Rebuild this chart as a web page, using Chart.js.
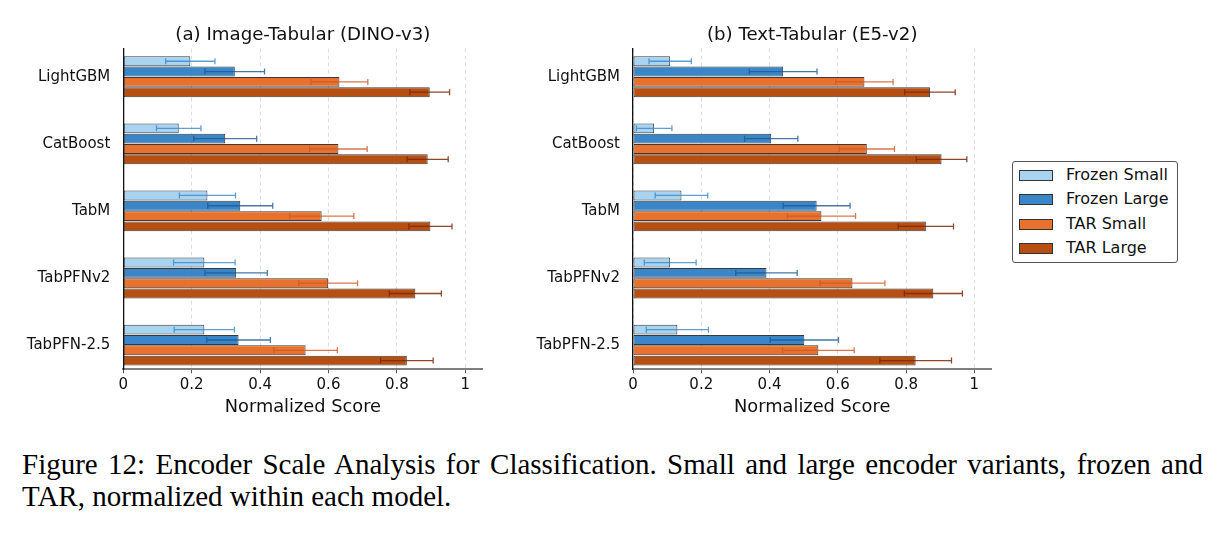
<!DOCTYPE html>
<html>
<head>
<meta charset="utf-8">
<script src="https://cdn.jsdelivr.net/npm/chart.js@4.4.1/dist/chart.umd.min.js"></script>
<style>
  html, body { margin:0; padding:0; background:#fff; }
  body { width:1219px; height:533px; position:relative; overflow:hidden; font-family:"DejaVu Sans", sans-serif; }
  canvas { position:absolute; top:0; }
  #legend { position:absolute; left:1012px; top:161px; width:166px; height:102px; border:1px solid #555; border-radius:3px; box-sizing:border-box; }
  .li { position:absolute; left:0; height:20px; width:166px; }
  .sw { position:absolute; left:6px; width:34px; height:11px; border:1px solid #333; box-sizing:border-box; }
  .lt { position:absolute; left:53px; font-size:16px; color:#111; line-height:20px; white-space:nowrap; }
  #caption { position:absolute; left:22px; top:448px; width:1181px; font-family:"Liberation Serif", "Times New Roman", serif; font-size:29px; line-height:32px; color:#000; }
  #caption .l1 { text-align:justify; text-align-last:justify; white-space:nowrap; }
</style>
</head>
<body>
<canvas id="chartA" width="500" height="430" style="left:0px"></canvas>
<canvas id="chartB" width="500" height="430" style="left:505px"></canvas>
<div id="legend"></div>
<div id="caption">
  <div class="l1">Figure 12: Encoder Scale Analysis for Classification. Small and large encoder variants, frozen and</div>
  <div>TAR, normalized within each model.</div>
</div>
<script>
// ---------- data ----------
const categories = ['LightGBM', 'CatBoost', 'TabM', 'TabPFNv2', 'TabPFN-2.5'];
const seriesNames = ['Frozen Small', 'Frozen Large', 'TAR Small', 'TAR Large'];
const xTickValues = [0, 0.2, 0.4, 0.6, 0.8, 1];
const xTickLabels = ['0', '0.2', '0.4', '0.6', '0.8', '1'];
const titleA = '(a) Image-Tabular (DINO-v3)';
const titleB = '(b) Text-Tabular (E5-v2)';
const xTitle = 'Normalized Score';

// (a) Image-Tabular
const imgFrozenSmall    = [0.196, 0.162, 0.246, 0.237, 0.237];
const imgFrozenLarge    = [0.326, 0.298, 0.342, 0.330, 0.337];
const imgTarSmall       = [0.632, 0.629, 0.580, 0.599, 0.533];
const imgTarLarge       = [0.896, 0.890, 0.898, 0.854, 0.829];
const imgFrozenSmallErr = [0.072, 0.065, 0.082, 0.090, 0.088];
const imgFrozenLargeErr = [0.087, 0.092, 0.095, 0.091, 0.093];
const imgTarSmallErr    = [0.083, 0.084, 0.094, 0.086, 0.093];
const imgTarLargeErr    = [0.058, 0.060, 0.063, 0.076, 0.077];

// (b) Text-Tabular
const txtFrozenSmall    = [0.109, 0.062, 0.142, 0.109, 0.130];
const txtFrozenLarge    = [0.440, 0.405, 0.538, 0.391, 0.502];
const txtTarSmall       = [0.678, 0.685, 0.552, 0.643, 0.543];
const txtTarLarge       = [0.870, 0.904, 0.858, 0.880, 0.828];
const txtFrozenSmallErr = [0.062, 0.052, 0.077, 0.076, 0.091];
const txtFrozenLargeErr = [0.099, 0.078, 0.098, 0.090, 0.100];
const txtTarSmallErr    = [0.084, 0.081, 0.100, 0.095, 0.105];
const txtTarLargeErr    = [0.074, 0.074, 0.081, 0.085, 0.105];

// ---------- styles ----------
const barColors = ['#a8d4f1', '#3a86c8', '#e8722d', '#b74f13'];
const errColors = ['rgba(58,134,200,0.8)', 'rgba(28,88,145,0.8)', 'rgba(205,88,32,0.8)', 'rgba(125,40,8,0.85)'];
const FONT = 'DejaVu Sans';

const errorBarPlugin = {
  id: 'errorBars',
  afterDatasetsDraw(chart) {
    const ctx = chart.ctx;
    const xs = chart.scales.x;
    chart.data.datasets.forEach((ds, di) => {
      const meta = chart.getDatasetMeta(di);
      meta.data.forEach((el, j) => {
        const v = ds.data[j].x, e = ds.errors[j];
        const x1 = xs.getPixelForValue(v - e), x2 = xs.getPixelForValue(v + e);
        const y = el.y;
        ctx.save();
        ctx.strokeStyle = ds.errColor;
        ctx.lineWidth = 1.3;
        ctx.beginPath();
        ctx.moveTo(x1, y); ctx.lineTo(x2, y);
        ctx.moveTo(x1, y - 3); ctx.lineTo(x1, y + 3);
        ctx.moveTo(x2, y - 3); ctx.lineTo(x2, y + 3);
        ctx.stroke();
        ctx.restore();
      });
    });
  }
};

function makeDatasets(vals, errs) {
  return vals.map((arr, i) => ({
    label: seriesNames[i],
    data: arr.map((v, j) => ({ x: v, y: j })),
    errors: errs[i],
    errColor: errColors[i],
    backgroundColor: barColors[i],
    borderColor: 'rgba(35,35,35,0.9)',
    borderWidth: 1,
    categoryPercentage: 0.615,
    barPercentage: 0.96,
    borderSkipped: false
  }));
}

function makeChart(id, title, vals, errs, yWidth, padRight) {
  return new Chart(document.getElementById(id), {
    type: 'bar',
    data: { datasets: makeDatasets(vals, errs) },
    plugins: [errorBarPlugin],
    options: {
      indexAxis: 'y',
      responsive: false,
      animation: false,
      devicePixelRatio: 1,
      layout: { padding: { left: 0, right: padRight, top: 0, bottom: 0 } },
      plugins: {
        legend: { display: false },
        tooltip: { enabled: false },
        title: {
          display: true, text: title, color: '#111', fullSize: false,
          font: { family: FONT, size: 18.2, weight: 'normal', lineHeight: 1.2 },
          padding: { top: 24, bottom: 2.7 }
        }
      },
      scales: {
        x: {
          type: 'linear', min: 0, max: 1.05,
          afterBuildTicks(scale) { scale.ticks = xTickValues.map(v => ({ value: v })); },
          afterFit(scale) { scale.height = 430 - 369.3; },
          ticks: {
            color: '#111', padding: 3,
            font: { family: FONT, size: 15 },
            callback(v) { const k = xTickValues.indexOf(v); return k >= 0 ? xTickLabels[k] : ''; }
          },
          grid: { color: '#dedede', lineWidth: 1, drawTicks: true, tickLength: 4, tickColor: '#555', tickWidth: 1, tickBorderDash: [] },
          border: { display: true, color: '#808080', width: 2, dash: [4, 3] },
          title: {
            display: true, text: xTitle, color: '#111',
            font: { family: FONT, size: 17.8, lineHeight: 1.2 },
            padding: { top: 0, bottom: 12 }
          }
        },
        y: {
          type: 'linear', min: -0.42, max: 4.36, reverse: true, offset: false,
          afterBuildTicks(scale) { scale.ticks = categories.map((_, i) => ({ value: i })); },
          afterFit(scale) { scale.width = yWidth; },
          ticks: {
            color: '#111', padding: 5,
            font: { family: FONT, size: 15 },
            callback(v) { return categories[v] !== undefined ? categories[v] : ''; }
          },
          grid: { display: false, offset: false },
          border: { display: true, color: '#111', width: 1.3 }
        }
      }
    }
  });
}

makeChart('chartA', titleA,
  [imgFrozenSmall, imgFrozenLarge, imgTarSmall, imgTarLarge],
  [imgFrozenSmallErr, imgFrozenLargeErr, imgTarSmallErr, imgTarLargeErr],
  123.3, 500 - 482.4);
makeChart('chartB', titleB,
  [txtFrozenSmall, txtFrozenLarge, txtTarSmall, txtTarLarge],
  [txtFrozenSmallErr, txtFrozenLargeErr, txtTarSmallErr, txtTarLargeErr],
  633 - 505, 505 + 500 - 991.4);

// legend (built from series names and colours)
const legend = document.getElementById('legend');
const rowCenters = [13, 37.3, 62.3, 86.3];
seriesNames.forEach((name, i) => {
  const row = document.createElement('div');
  row.className = 'li';
  row.style.top = (rowCenters[i] - 10) + 'px';
  const sw = document.createElement('div');
  sw.className = 'sw';
  sw.style.top = '4.5px';
  sw.style.background = barColors[i];
  const t = document.createElement('div');
  t.className = 'lt';
  t.textContent = name;
  row.appendChild(sw); row.appendChild(t);
  legend.appendChild(row);
});
</script>
</body>
</html>
